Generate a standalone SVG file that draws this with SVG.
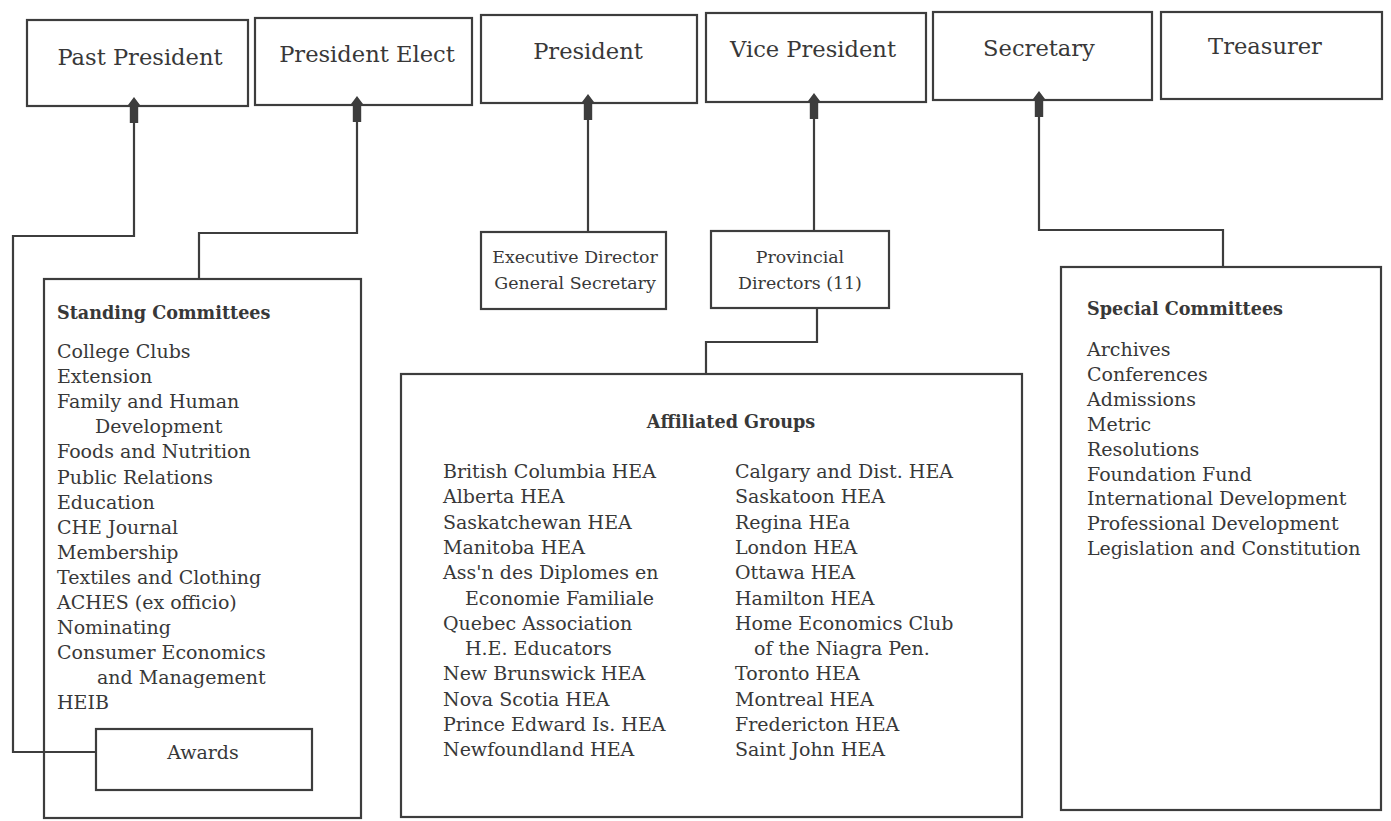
<svg xmlns="http://www.w3.org/2000/svg" width="1391" height="821" viewBox="0 0 1391 821">
<style>
.box{fill:#fff;stroke:#3d3d3d;stroke-width:2.2}
.ln{fill:none;stroke:#3d3d3d;stroke-width:2.2}
.hd{fill:#3d3d3d}
text{font-family:"DejaVu Serif","Liberation Serif",serif;fill:#383838}
.t{font-size:22.6px;text-anchor:middle}
.b{font-size:19px}
.c{font-size:19px;text-anchor:middle}
.s{font-size:17.4px;text-anchor:middle}
.h{font-size:17.6px;font-weight:bold}
.hc{font-size:17.6px;font-weight:bold;text-anchor:middle}
</style>
<defs>
<path id="arr" d="M0,-9 L7.5,1 L4.2,1 L4.2,17 L-4.2,17 L-4.2,1 L-7.5,1 Z"/>
</defs>
<rect width="1391" height="821" fill="#fff"/>

<g id="past-president">
<rect class="box" x="27" y="20" width="221" height="86"/>
<text class="t" x="140" y="65">Past President</text>
</g>
<g id="president-elect">
<rect class="box" x="255" y="18" width="217" height="87"/>
<text class="t" x="367" y="62">President Elect</text>
</g>
<g id="president">
<rect class="box" x="481" y="15" width="216" height="88"/>
<text class="t" x="588" y="59">President</text>
</g>
<g id="vice-president">
<rect class="box" x="706" y="13" width="220" height="89"/>
<text class="t" x="813" y="57">Vice President</text>
</g>
<g id="secretary">
<rect class="box" x="933" y="12" width="219" height="88"/>
<text class="t" x="1039" y="56">Secretary</text>
</g>
<g id="treasurer">
<rect class="box" x="1161" y="12" width="221" height="87"/>
<text class="t" x="1265" y="54">Treasurer</text>
</g>

<g id="standing-committees">
<rect class="box" x="44" y="279" width="317" height="539"/>
<text class="h" x="57" y="319">Standing Committees</text>
<text class="b" x="57" y="358">College Clubs</text>
<text class="b" x="57" y="383">Extension</text>
<text class="b" x="57" y="408">Family and Human</text>
<text class="b" x="95" y="433">Development</text>
<text class="b" x="57" y="458">Foods and Nutrition</text>
<text class="b" x="57" y="483.5">Public Relations</text>
<text class="b" x="57" y="508.6">Education</text>
<text class="b" x="57" y="533.7">CHE Journal</text>
<text class="b" x="57" y="558.8">Membership</text>
<text class="b" x="57" y="583.9">Textiles and Clothing</text>
<text class="b" x="57" y="609">ACHES (ex officio)</text>
<text class="b" x="57" y="634.1">Nominating</text>
<text class="b" x="57" y="659.2">Consumer Economics</text>
<text class="b" x="97" y="684.3">and Management</text>
<text class="b" x="57" y="709.4">HEIB</text>
</g>

<g id="awards">
<rect class="box" x="96" y="729" width="216" height="61"/>
<text class="c" x="203" y="759">Awards</text>
</g>

<g id="executive-director">
<rect class="box" x="481" y="232" width="185" height="77"/>
<text class="s" x="575" y="263">Executive Director</text>
<text class="s" x="575" y="289">General Secretary</text>
</g>

<g id="provincial-directors">
<rect class="box" x="711" y="231" width="178" height="77"/>
<text class="s" x="800" y="263">Provincial</text>
<text class="s" x="800" y="289">Directors (11)</text>
</g>

<g id="affiliated-groups">
<rect class="box" x="401" y="374" width="621" height="443"/>
<text class="hc" x="731" y="428">Affiliated Groups</text>
<text class="b" x="443" y="478">British Columbia HEA</text>
<text class="b" x="443" y="503.3">Alberta HEA</text>
<text class="b" x="443" y="528.6">Saskatchewan HEA</text>
<text class="b" x="443" y="553.9">Manitoba HEA</text>
<text class="b" x="443" y="579.2">Ass'n des Diplomes en</text>
<text class="b" x="465" y="604.5">Economie Familiale</text>
<text class="b" x="443" y="629.8">Quebec Association</text>
<text class="b" x="465" y="655.1">H.E. Educators</text>
<text class="b" x="443" y="680.4">New Brunswick HEA</text>
<text class="b" x="443" y="705.7">Nova Scotia HEA</text>
<text class="b" x="443" y="731">Prince Edward Is. HEA</text>
<text class="b" x="443" y="756.3">Newfoundland HEA</text>
<text class="b" x="735" y="478">Calgary and Dist. HEA</text>
<text class="b" x="735" y="503.3">Saskatoon HEA</text>
<text class="b" x="735" y="528.6">Regina HEa</text>
<text class="b" x="735" y="553.9">London HEA</text>
<text class="b" x="735" y="579.2">Ottawa HEA</text>
<text class="b" x="735" y="604.5">Hamilton HEA</text>
<text class="b" x="735" y="629.8">Home Economics Club</text>
<text class="b" x="754" y="655.1">of the Niagra Pen.</text>
<text class="b" x="735" y="680.4">Toronto HEA</text>
<text class="b" x="735" y="705.7">Montreal HEA</text>
<text class="b" x="735" y="731">Fredericton HEA</text>
<text class="b" x="735" y="756.3">Saint John HEA</text>
</g>

<g id="special-committees">
<rect class="box" x="1061" y="267" width="320" height="543"/>
<text class="h" x="1087" y="315">Special Committees</text>
<text class="b" x="1087" y="356">Archives</text>
<text class="b" x="1087" y="380.9">Conferences</text>
<text class="b" x="1087" y="405.8">Admissions</text>
<text class="b" x="1087" y="430.7">Metric</text>
<text class="b" x="1087" y="455.6">Resolutions</text>
<text class="b" x="1087" y="480.5">Foundation Fund</text>
<text class="b" x="1087" y="505.4">International Development</text>
<text class="b" x="1087" y="530.3">Professional Development</text>
<text class="b" x="1087" y="555.2">Legislation and Constitution</text>
</g>

<g id="connectors">
<path class="ln" d="M134,118 V236 H13 V752 H96"/>
<path class="ln" d="M357,118 V233 H199 V279"/>
<path class="ln" d="M588,116 V232"/>
<path class="ln" d="M814,115 V231"/>
<path class="ln" d="M817,308 V342 H706 V374"/>
<path class="ln" d="M1039,114 V230 H1223 V267"/>
<use href="#arr" class="hd" x="134" y="106"/>
<use href="#arr" class="hd" x="357" y="105"/>
<use href="#arr" class="hd" x="588" y="103"/>
<use href="#arr" class="hd" x="814" y="102"/>
<use href="#arr" class="hd" x="1039" y="100"/>
</g>
</svg>
